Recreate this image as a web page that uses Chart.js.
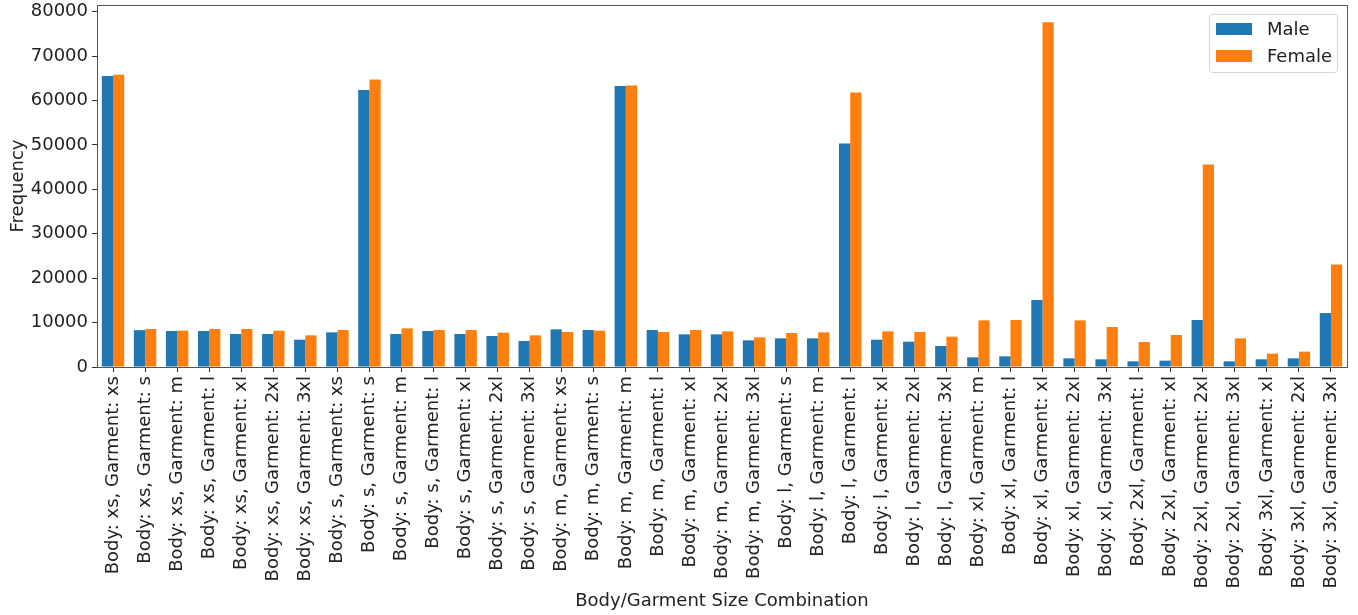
<!DOCTYPE html>
<html>
<head>
<meta charset="utf-8">
<script src="https://cdn.jsdelivr.net/npm/chart.js@4/dist/chart.umd.min.js"></script>
<style>
  html, body { margin: 0; padding: 0; background: #fff; }
  #wrap { width: 1358px; height: 615px; position: relative; }
</style>
</head>
<body>
<div id="wrap"><canvas id="sizeChart"></canvas></div>
<script>
// chart values
const categories = [
    'Body: xs, Garment: xs', 'Body: xs, Garment: s', 'Body: xs, Garment: m', 'Body: xs, Garment: l',
    'Body: xs, Garment: xl', 'Body: xs, Garment: 2xl', 'Body: xs, Garment: 3xl',
    'Body: s, Garment: xs', 'Body: s, Garment: s', 'Body: s, Garment: m', 'Body: s, Garment: l',
    'Body: s, Garment: xl', 'Body: s, Garment: 2xl', 'Body: s, Garment: 3xl',
    'Body: m, Garment: xs', 'Body: m, Garment: s', 'Body: m, Garment: m', 'Body: m, Garment: l',
    'Body: m, Garment: xl', 'Body: m, Garment: 2xl', 'Body: m, Garment: 3xl',
    'Body: l, Garment: s', 'Body: l, Garment: m', 'Body: l, Garment: l', 'Body: l, Garment: xl',
    'Body: l, Garment: 2xl', 'Body: l, Garment: 3xl',
    'Body: xl, Garment: m', 'Body: xl, Garment: l', 'Body: xl, Garment: xl', 'Body: xl, Garment: 2xl',
    'Body: xl, Garment: 3xl',
    'Body: 2xl, Garment: l', 'Body: 2xl, Garment: xl', 'Body: 2xl, Garment: 2xl', 'Body: 2xl, Garment: 3xl',
    'Body: 3xl, Garment: xl', 'Body: 3xl, Garment: 2xl', 'Body: 3xl, Garment: 3xl'
];

const maleValues = [
    65500, 8300, 8100, 8100, 7430, 7430, 6150,
    7800, 62340, 7430, 8100, 7430, 6980, 5850,
    8480, 8330, 63240, 8330, 7350, 7350, 6000,
    6450, 6450, 50340, 6150, 5700, 4730,
    2180, 2400, 15080, 1950, 1730,
    1280, 1430, 10580, 1280,
    1730, 1950, 12150
];

const femaleValues = [
    65800, 8550, 8180, 8550, 8550, 8180, 7130,
    8330, 64740, 8700, 8330, 8330, 7730, 7130,
    7880, 8180, 63390, 7880, 8330, 8030, 6680,
    7650, 7800, 61820, 8030, 7880, 6830,
    10500, 10580, 77640, 10500, 9000,
    5630, 7200, 45610, 6450,
    3000, 3450, 23100
];

const seriesNames = ['Male', 'Female'];
const seriesColors = ['#1f77b4', '#ff7f0e'];
const yTicks = [0, 10000, 20000, 30000, 40000, 50000, 60000, 70000, 80000];

const FONT = "'DejaVu Sans', sans-serif";
const FONT_SIZE = 18;
Chart.defaults.font.family = FONT;
Chart.defaults.color = '#222';

// full box around the plot, like matplotlib spines
const frameBox = {
    id: 'frameBox',
    afterDraw(chart) {
        const a = chart.chartArea;
        const ctx = chart.ctx;
        ctx.save();
        ctx.strokeStyle = '#555';
        ctx.lineWidth = 1;
        ctx.strokeRect(a.left + 0.5, a.top + 0.5, a.right - a.left, a.bottom - a.top);
        ctx.restore();
    }
};

// legend inside the top right corner
const boxLegend = {
    id: 'boxLegend',
    afterDraw(chart) {
        const a = chart.chartArea;
        const ctx = chart.ctx;
        const x = a.right - 138, y = a.top + 9, w = 128, h = 58;
        ctx.save();
        ctx.beginPath();
        ctx.roundRect(x + 0.5, y + 0.5, w, h, 3);
        ctx.fillStyle = 'rgba(255,255,255,0.8)';
        ctx.fill();
        ctx.strokeStyle = '#d6d6d6';
        ctx.lineWidth = 1;
        ctx.stroke();
        ctx.font = FONT_SIZE + 'px ' + FONT;
        ctx.textBaseline = 'middle';
        ctx.textAlign = 'left';
        seriesNames.forEach((name, i) => {
            const cy = y + 15 + i * 27;
            ctx.fillStyle = seriesColors[i];
            ctx.fillRect(x + 7, cy - 6, 36, 12);
            ctx.fillStyle = '#222';
            ctx.fillText(name, x + 58, cy + 1);
        });
        ctx.restore();
    }
};

const ctx = document.getElementById('sizeChart');
new Chart(ctx.getContext('2d'), {
    type: 'bar',
    data: {
        labels: categories,
        datasets: [
            { label: seriesNames[0], data: maleValues, backgroundColor: seriesColors[0], borderWidth: 0 },
            { label: seriesNames[1], data: femaleValues, backgroundColor: seriesColors[1], borderWidth: 0 }
        ]
    },
    options: {
        responsive: true,
        maintainAspectRatio: false,
        animation: false,
        layout: { padding: { top: 5, right: 11, left: 0, bottom: 0 } },
        datasets: { bar: { categoryPercentage: 0.7, barPercentage: 1.0 } },
        plugins: {
            legend: { display: false },
            tooltip: { enabled: false }
        },
        scales: {
            x: {
                grid: { display: true, drawOnChartArea: false, drawTicks: true, tickLength: 5, offset: false, color: '#333' },
                border: { display: true, color: '#555' },
                ticks: {
                    autoSkip: false,
                    maxRotation: 90,
                    minRotation: 90,
                    padding: 4,
                    color: '#222',
                    font: { size: FONT_SIZE, family: FONT }
                },
                title: {
                    display: true,
                    text: 'Body/Garment Size Combination',
                    color: '#222',
                    font: { size: FONT_SIZE, family: FONT },
                    padding: { top: 0, bottom: 3 }
                },
                afterFit(scale) {
                    scale.height = 248;
                    scale.paddingLeft = 0;
                    scale.paddingRight = 0;
                }
            },
            y: {
                min: 0,
                max: 81500,
                grid: { display: true, drawOnChartArea: false, drawTicks: true, tickLength: 5, color: '#333' },
                border: { display: true, color: '#555' },
                afterBuildTicks(scale) { scale.ticks = yTicks.map(v => ({ value: v })); },
                ticks: {
                    padding: 4,
                    color: '#222',
                    font: { size: FONT_SIZE, family: FONT },
                    callback: v => String(v)
                },
                title: {
                    display: true,
                    text: 'Frequency',
                    color: '#222',
                    font: { size: FONT_SIZE, family: FONT },
                    padding: { top: 8, bottom: 0 }
                },
                afterFit(scale) {
                    scale.width = 97;
                    scale.paddingTop = 0;
                    scale.paddingBottom = 0;
                }
            }
        }
    },
    plugins: [frameBox, boxLegend]
});
</script>
</body>
</html>
